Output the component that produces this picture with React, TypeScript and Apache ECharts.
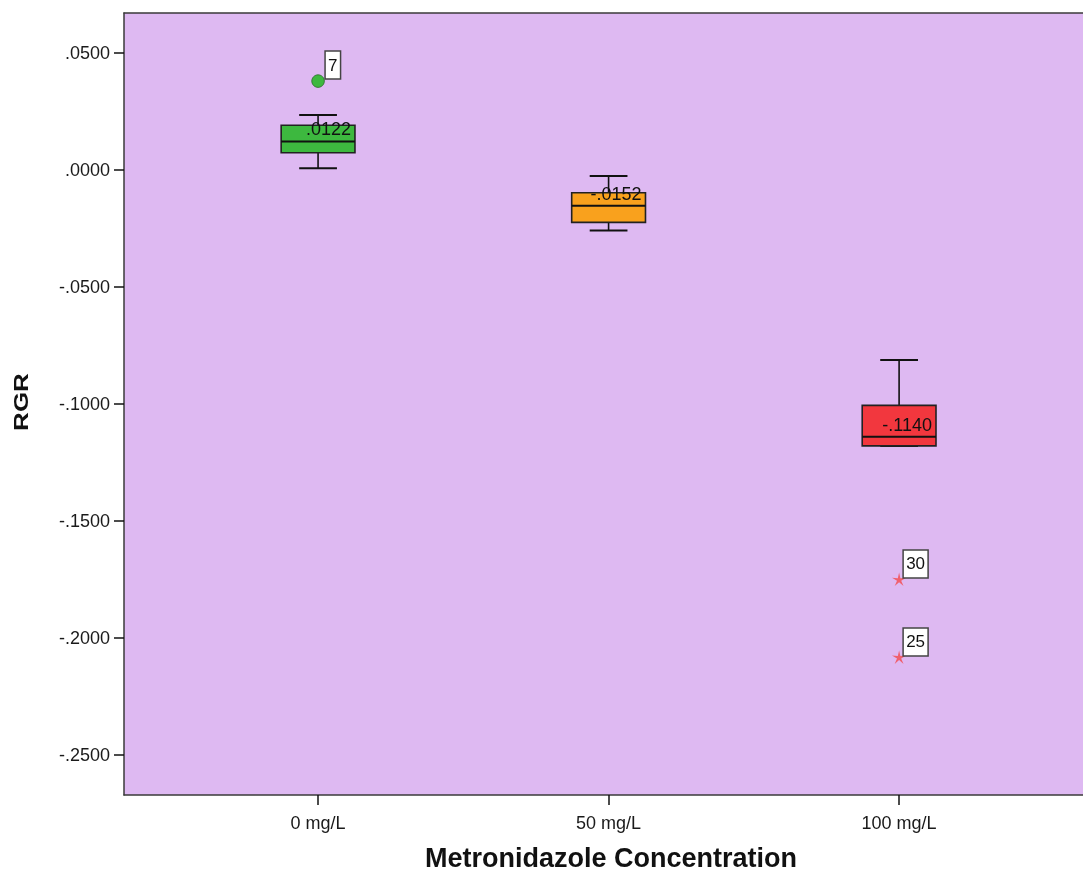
import React, { useEffect, useRef } from "react";
import * as echarts from "echarts";

const categories = ["0 mg/L", "50 mg/L", "100 mg/L"];
const lowerWhisker = [0.0007, -0.0258, -0.1179];
const q1 = [0.0074, -0.0224, -0.1179];
const median = [0.0122, -0.0153, -0.114];
const q3 = [0.0191, -0.0097, -0.1006];
const upperWhisker = [0.0235, -0.0026, -0.0812];
const medianLabels = [".0122", "-.0152", "-.1140"];
const boxColors = ["#3DB83F", "#F9A11D", "#F2373E"];

const outlierGroup = [0, 2, 2];
const outlierValues = [0.038, -0.1752, -0.2085];
const outlierIds = ["7", "30", "25"];
const outlierKinds = ["circle", "star", "star"];

const yTicks = [-0.25, -0.2, -0.15, -0.1, -0.05, 0, 0.05];
const xTicks = [0, 1, 2];

const FONT = "'Liberation Sans', Arial, sans-serif";

function fmtY(v: number) {
  const s = Math.abs(v).toFixed(4).replace(/^0/, "");
  return (v < -1e-9 ? "-" : "") + s;
}

export default function App() {
  const ref = useRef<HTMLDivElement>(null);
  useEffect(() => {
    if (!ref.current) return;
    const chart = echarts.init(ref.current, null, { renderer: "svg" });
    const boxData = categories.map((_, i) => [i, lowerWhisker[i], q1[i], median[i], q3[i], upperWhisker[i]]);
    const outData = outlierValues.map((v, i) => [outlierGroup[i], v]);
    const frame = { color: "#3a3a3a", width: 1.5 };

    chart.setOption({
      animation: false,
      grid: {
        left: 124,
        top: 13,
        right: 0,
        height: 782,
        show: true,
        backgroundColor: "#DEB9F2",
        borderWidth: 0,
      },
      xAxis: [
        {
          type: "value",
          min: -0.668,
          max: 2.633,
          splitLine: { show: false },
          axisLine: { show: true, onZero: false, lineStyle: frame },
          axisTick: { show: true, customValues: xTicks, length: 10, lineStyle: { color: "#111", width: 1.5 } },
          axisLabel: {
            customValues: xTicks,
            formatter: (v: number) => categories[Math.round(v)] ?? "",
            fontSize: 18,
            color: "#1a1a1a",
            fontFamily: FONT,
            margin: 19,
          },
        },
        {
          type: "value",
          position: "top",
          min: -0.668,
          max: 2.633,
          splitLine: { show: false },
          axisLine: { show: true, onZero: false, lineStyle: frame },
          axisTick: { show: false },
          axisLabel: { show: false },
        },
      ],
      yAxis: {
        type: "value",
        min: -0.2671,
        max: 0.0671,
        splitLine: { show: false },
        axisLine: { show: true, onZero: false, lineStyle: frame },
        axisTick: { show: true, customValues: yTicks, length: 10, lineStyle: { color: "#111", width: 1.5 } },
        axisLabel: {
          customValues: yTicks,
          formatter: (v: number) => fmtY(v),
          fontSize: 18,
          color: "#1a1a1a",
          fontFamily: FONT,
          margin: 14,
        },
      },
      graphic: [
        {
          type: "text",
          x: 611,
          y: 858,
          style: {
            text: "Metronidazole Concentration",
            fontSize: 27,
            fontWeight: "bold",
            fontFamily: FONT,
            fill: "#111",
            align: "center",
            verticalAlign: "middle",
          },
        },
        {
          type: "text",
          x: 21,
          y: 402,
          rotation: Math.PI / 2,
          scaleX: 1.3,
          style: {
            text: "RGR",
            fontSize: 20,
            fontWeight: "bold",
            fontFamily: FONT,
            fill: "#111",
            align: "center",
            verticalAlign: "middle",
          },
        },
      ],
      series: [
        {
          type: "custom",
          data: boxData,
          encode: { x: 0, y: [1, 2, 3, 4, 5] },
          renderItem: (params: any, api: any) => {
            const i = params.dataIndex;
            const x = api.value(0);
            const unit = api.size([1, 0])[0];
            const bw = unit * 0.254;
            const cw = unit * 0.13;
            const pLW = api.coord([x, api.value(1)]);
            const pQ1 = api.coord([x, api.value(2)]);
            const pMed = api.coord([x, api.value(3)]);
            const pQ3 = api.coord([x, api.value(4)]);
            const pUW = api.coord([x, api.value(5)]);
            const cx = pMed[0];
            const line = { stroke: "#111", lineWidth: 1.6 };
            return {
              type: "group",
              children: [
                { type: "line", shape: { x1: cx, y1: pUW[1], x2: cx, y2: pQ3[1] }, style: line },
                { type: "line", shape: { x1: cx, y1: pQ1[1], x2: cx, y2: pLW[1] }, style: line },
                { type: "line", shape: { x1: cx - cw / 2, y1: pUW[1], x2: cx + cw / 2, y2: pUW[1] }, style: { stroke: "#111", lineWidth: 2 } },
                { type: "line", shape: { x1: cx - cw / 2, y1: pLW[1], x2: cx + cw / 2, y2: pLW[1] }, style: { stroke: "#111", lineWidth: 2 } },
                {
                  type: "rect",
                  shape: { x: cx - bw / 2, y: pQ3[1], width: bw, height: pQ1[1] - pQ3[1] },
                  style: { fill: boxColors[i], stroke: "#222", lineWidth: 1.6 },
                },
                { type: "line", shape: { x1: cx - bw / 2, y1: pMed[1], x2: cx + bw / 2, y2: pMed[1] }, style: { stroke: "#111", lineWidth: 2 } },
                {
                  type: "text",
                  x: cx + bw / 2 - 4,
                  y: pMed[1] - 12,
                  style: {
                    text: medianLabels[i],
                    fontSize: 18,
                    fontFamily: FONT,
                    fill: "#111",
                    align: "right",
                    verticalAlign: "middle",
                  },
                },
              ],
            };
          },
          z: 3,
        },
        {
          type: "custom",
          data: outData,
          encode: { x: 0, y: 1 },
          renderItem: (params: any, api: any) => {
            const i = params.dataIndex;
            const p = api.coord([api.value(0), api.value(1)]);
            const kind = outlierKinds[i];
            let marker: any;
            if (kind === "circle") {
              marker = {
                type: "circle",
                shape: { cx: p[0], cy: p[1], r: 6.3 },
                style: { fill: boxColors[outlierGroup[i]], stroke: "#2a6a2a", lineWidth: 0.8 },
              };
            } else {
              const pts: number[][] = [];
              const R = 7.5, r = 2.2;
              for (let k = 0; k < 10; k++) {
                const a = -Math.PI / 2 + (k * Math.PI) / 5;
                const rr = k % 2 === 0 ? R : r;
                pts.push([p[0] + rr * Math.cos(a), p[1] + rr * Math.sin(a)]);
              }
              marker = { type: "polygon", shape: { points: pts }, style: { fill: "#F0606E" } };
            }
            const id = outlierIds[i];
            const w = 9.5 * id.length + 6;
            const h = 28;
            const bx = p[0] + (kind === "circle" ? 7 : 4);
            const by = p[1] - 2 - h;
            return {
              type: "group",
              children: [
                marker,
                { type: "rect", shape: { x: bx, y: by, width: w, height: h }, style: { fill: "#fff", stroke: "#444", lineWidth: 1.5 } },
                {
                  type: "text",
                  x: bx + w / 2,
                  y: by + h / 2,
                  style: { text: id, fontSize: 17, fontFamily: FONT, fill: "#111", align: "center", verticalAlign: "middle" },
                },
              ],
            };
          },
          z: 4,
        },
      ],
    });
    return () => chart.dispose();
  }, []);
  return <div ref={ref} style={{ position: "fixed", left: 0, top: 0, width: 1083, height: 872 }} />;
}
